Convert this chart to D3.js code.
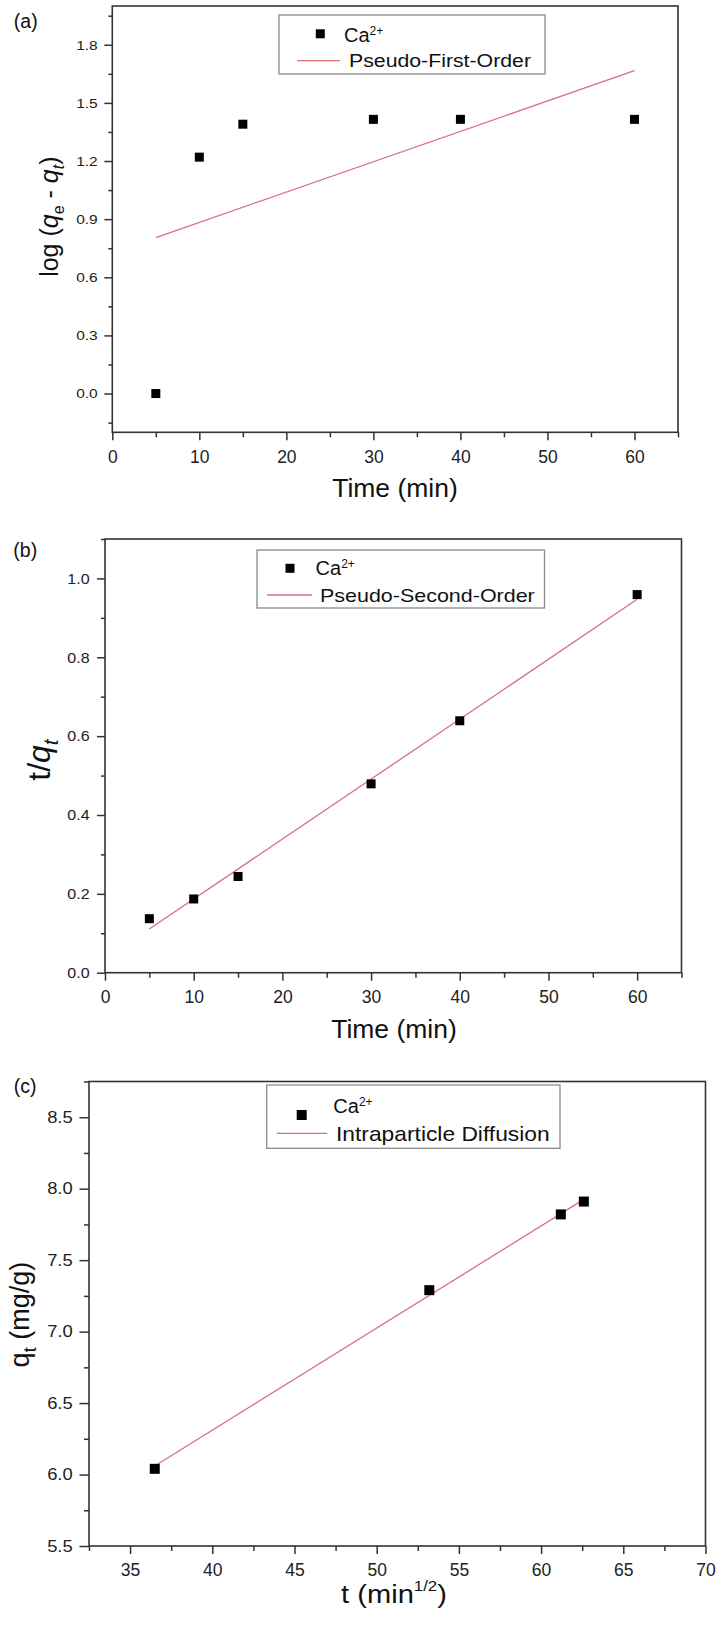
<!DOCTYPE html>
<html lang="en">
<head>
<meta charset="utf-8">
<title>Ca2+ adsorption kinetics</title>
<script src="https://cdn.jsdelivr.net/npm/d3@7"></script>
<style>
  body { margin: 0; background: #fff; }
  svg { display: block; font-family: "Liberation Sans", Arial, sans-serif; }
  .tick line { stroke: #333; stroke-width: 1.5; }
  .tick text { fill: #222; }
</style>
</head>
<body>
<script>
// (a) pseudo-first-order
const timeA = [5, 10, 15, 30, 40, 60];
const logQeQt = [0.0, 1.22, 1.39, 1.415, 1.415, 1.415];
const pfoFitX = [5, 60];
const pfoFitY = [0.805, 1.666];

// (b) pseudo-second-order
const timeB = [5, 10, 15, 30, 40, 60];
const tOverQt = [0.137, 0.187, 0.244, 0.479, 0.639, 0.959];
const psoFitX = [5, 60];
const psoFitY = [0.111, 0.947];

// (c) intraparticle diffusion
const sqrtT = [36.5, 53.2, 61.2, 62.6];
const qt = [6.04, 7.29, 7.82, 7.91];
const ipdFitX = [36.5, 62.6];
const ipdFitY = [6.06, 7.925];

// tick labels
const timeTicks = [0, 10, 20, 30, 40, 50, 60];
const yTicksA = [0.0, 0.3, 0.6, 0.9, 1.2, 1.5, 1.8];
const yTicksB = [0.0, 0.2, 0.4, 0.6, 0.8, 1.0];
const xTicksC = [35, 40, 45, 50, 55, 60, 65, 70];
const yTicksC = [5.5, 6.0, 6.5, 7.0, 7.5, 8.0, 8.5];

const W = 717, H = 1629;
const lineColor = "#d9707c";

const svg = d3.select("body").append("svg")
  .attr("width", W)
  .attr("height", H);

function addText(parent, x, y, parts, o) {
  o = o || {};
  let tr = `translate(${x},${y})`;
  if (o.rotate) tr += " rotate(-90)";
  if (o.sx) tr += ` scale(${o.sx},1)`;
  const t = parent.append("text")
    .attr("transform", tr)
    .attr("text-anchor", o.anchor || "start")
    .attr("font-size", o.size)
    .attr("fill", "#111");
  parts.forEach(p => {
    const s = t.append("tspan").text(p.t);
    if (p.size) s.attr("font-size", p.size);
    if (p.dy) s.attr("dy", p.dy);
    if (p.italic) s.attr("font-style", "italic");
  });
  return t;
}

function minors(domain, step, majors) {
  const start = Math.ceil(domain[0] / step - 1e-9) * step;
  return d3.range(start, domain[1] + 1e-9, step)
    .filter(v => !majors.some(m => Math.abs(m - v) < 1e-6));
}

const panels = [
  {
    tag: "(a)", tagPos: [13.8, 27.5],
    box: { l: 112.3, r: 678, t: 6, b: 432.3 },
    xDomain: [0, 65], yDomain: [-0.2, 2.0],
    xTicks: timeTicks, xStep: 5, xFmt: d3.format("d"),
    yTicks: yTicksA, yStep: 0.15, yFmt: d3.format(".1f"),
    yTick: 8, yMinor: 4, yPad: 6.6, yFont: 13.5, ySx: 1.15,
    xs: timeA, ys: logQeQt, fitX: pfoFitX, fitY: pfoFitY, marker: 9,
    xTitle: [{ t: "Time (min)" }], xTitlePos: [395, 497.3], xTitleSize: 25, xTitleSx: 1.06,
    yTitle: [{ t: "log (" }, { t: "q", italic: true }, { t: "e", size: 16, dy: 6 }, { t: " - ", dy: -6 },
             { t: "q", italic: true }, { t: "t", italic: true, size: 16, dy: 6 }, { t: ")", dy: -6 }],
    yTitlePos: [58.3, 216.7], yTitleSize: 25,
    legend: { x: 279, y: 15, w: 266, h: 59, mx: 320.3, my: 33.8, caX: 344, caY: 41.7,
              lx1: 297, lx2: 340, ly: 60.7, labX: 349, labY: 66.7, labSize: 19, labSx: 1.12,
              label: "Pseudo-First-Order" }
  },
  {
    tag: "(b)", tagPos: [13.3, 556.7],
    box: { l: 105, r: 681.5, t: 539, b: 972.7 },
    xDomain: [0, 65], yDomain: [0, 1.1],
    xTicks: timeTicks, xStep: 5, xFmt: d3.format("d"),
    yTicks: yTicksB, yStep: 0.1, yFmt: d3.format(".1f"),
    yTick: 8, yMinor: 4, yPad: 7.4, yFont: 15, ySx: 1.07,
    xs: timeB, ys: tOverQt, fitX: psoFitX, fitY: psoFitY, marker: 9,
    xTitle: [{ t: "Time (min)" }], xTitlePos: [394, 1037.5], xTitleSize: 25, xTitleSx: 1.06,
    yTitle: [{ t: "t/" }, { t: "q", italic: true }, { t: "t", italic: true, size: 21, dy: 8 }],
    yTitlePos: [50, 760], yTitleSize: 32,
    legend: { x: 257, y: 550, w: 287.5, h: 58, mx: 290, my: 568.3, caX: 315.6, caY: 575,
              lx1: 267, lx2: 312, ly: 595, labX: 320, labY: 601.7, labSize: 19, labSx: 1.13,
              label: "Pseudo-Second-Order" }
  },
  {
    tag: "(c)", tagPos: [13.8, 1092.5],
    box: { l: 89, r: 705.5, t: 1081.5, b: 1546 },
    xDomain: [32.5, 70], yDomain: [5.5, 8.75],
    xTicks: xTicksC, xStep: 2.5, xFmt: d3.format("d"),
    yTicks: yTicksC, yStep: 0.25, yFmt: d3.format(".1f"),
    yTick: 9.5, yMinor: 5, yPad: 6.8, yFont: 16, ySx: 1.15,
    xs: sqrtT, ys: qt, fitX: ipdFitX, fitY: ipdFitY, marker: 10,
    xTitle: [{ t: "t (min" }, { t: "1/2", size: 15, dy: -12 }, { t: ")", dy: 12 }],
    xTitlePos: [394, 1603], xTitleSize: 26, xTitleSx: 1.12,
    yTitle: [{ t: "q" }, { t: "t", size: 18, dy: 7 }, { t: " (mg/g)", dy: -7 }],
    yTitlePos: [29, 1314.6], yTitleSize: 27,
    legend: { x: 266.7, y: 1085, w: 293.3, h: 63.3, mx: 301.7, my: 1115, caX: 333.3, caY: 1113.3,
              lx1: 276.7, lx2: 327.3, ly: 1133.3, labX: 336, labY: 1141, labSize: 20, labSx: 1.14,
              label: "Intraparticle Diffusion" }
  }
];

panels.forEach(p => {
  const g = svg.append("g");
  const b = p.box;

  const x = d3.scaleLinear().domain(p.xDomain).range([b.l, b.r]);
  const y = d3.scaleLinear().domain(p.yDomain).range([b.b, b.t]);

  // minor ticks
  g.append("g")
    .attr("transform", `translate(0,${b.b})`)
    .call(d3.axisBottom(x).tickValues(minors(p.xDomain, p.xStep, p.xTicks)).tickSize(5).tickFormat(""))
    .call(a => a.select(".domain").remove());
  g.append("g")
    .attr("transform", `translate(${b.l},0)`)
    .call(d3.axisLeft(y).tickValues(minors(p.yDomain, p.yStep, p.yTicks)).tickSize(p.yMinor).tickFormat(""))
    .call(a => a.select(".domain").remove());

  // major ticks + labels
  g.append("g")
    .attr("transform", `translate(0,${b.b})`)
    .call(d3.axisBottom(x).tickValues(p.xTicks).tickFormat(p.xFmt).tickSize(8).tickPadding(10))
    .call(a => a.select(".domain").remove())
    .call(a => a.selectAll(".tick text").attr("font-size", 17.5));

  const spacing = p.yTick + p.yPad;
  g.append("g")
    .attr("transform", `translate(${b.l},0)`)
    .call(d3.axisLeft(y).tickValues(p.yTicks).tickFormat(p.yFmt).tickSize(p.yTick).tickPadding(p.yPad))
    .call(a => a.select(".domain").remove())
    .call(a => a.selectAll(".tick text")
      .attr("font-size", p.yFont)
      .attr("x", -spacing / p.ySx)
      .attr("transform", `scale(${p.ySx},1)`));

  g.selectAll("g").attr("font-family", null).attr("font-size", null);

  // frame
  g.append("rect")
    .attr("x", b.l).attr("y", b.t)
    .attr("width", b.r - b.l).attr("height", b.b - b.t)
    .attr("fill", "none").attr("stroke", "#333").attr("stroke-width", 1.6);

  // fitted line
  const fit = p.fitX.map((v, i) => [v, p.fitY[i]]);
  g.append("path")
    .datum(fit)
    .attr("d", d3.line().x(d => x(d[0])).y(d => y(d[1])))
    .attr("fill", "none").attr("stroke", lineColor).attr("stroke-width", 1.3);

  // data markers
  const pts = p.xs.map((v, i) => [v, p.ys[i]]);
  g.selectAll(".pt").data(pts).enter().append("rect")
    .attr("class", "pt")
    .attr("x", d => x(d[0]) - p.marker / 2)
    .attr("y", d => y(d[1]) - p.marker / 2)
    .attr("width", p.marker).attr("height", p.marker)
    .attr("fill", "#000");

  // titles
  addText(g, p.xTitlePos[0], p.xTitlePos[1], p.xTitle, { size: p.xTitleSize, anchor: "middle", sx: p.xTitleSx });
  addText(g, p.yTitlePos[0], p.yTitlePos[1], p.yTitle, { size: p.yTitleSize, anchor: "middle", rotate: true });
  addText(g, p.tagPos[0], p.tagPos[1], [{ t: p.tag }], { size: 19.5 });

  // legend
  const L = p.legend;
  g.append("rect")
    .attr("x", L.x).attr("y", L.y).attr("width", L.w).attr("height", L.h)
    .attr("fill", "#fff").attr("stroke", "#8a8a8a").attr("stroke-width", 1.3);
  g.append("rect")
    .attr("x", L.mx - p.marker / 2).attr("y", L.my - p.marker / 2)
    .attr("width", p.marker).attr("height", p.marker).attr("fill", "#000");
  addText(g, L.caX, L.caY, [{ t: "Ca" }, { t: "2+", size: 12, dy: -7 }], { size: 20 });
  g.append("line")
    .attr("x1", L.lx1).attr("x2", L.lx2).attr("y1", L.ly).attr("y2", L.ly)
    .attr("stroke", lineColor).attr("stroke-width", 1.3);
  addText(g, L.labX, L.labY, [{ t: L.label }], { size: L.labSize, sx: L.labSx });
});
</script>
</body>
</html>
